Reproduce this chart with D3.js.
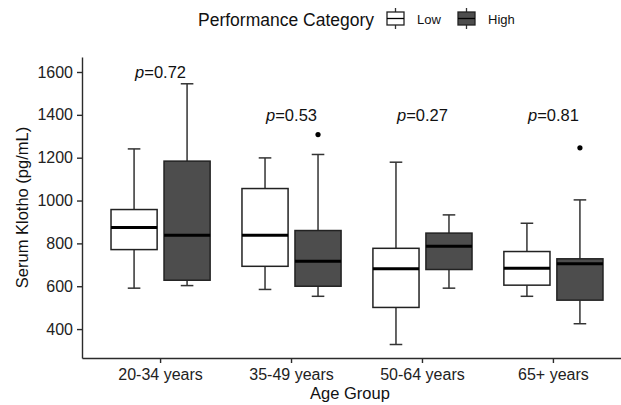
<!DOCTYPE html>
<html>
<head>
<meta charset="utf-8">
<script src="https://cdn.jsdelivr.net/npm/d3@7"></script>
<style>
  body { margin: 0; background: #fff; }
  svg { font-family: "Liberation Sans", Arial, sans-serif; }
  .axis path, .axis line { stroke: #2b2b2b; stroke-width: 1.4px; }
  .axis text { fill: #222; font-size: 16px; }
</style>
</head>
<body>
<div id="chart"></div>
<script>
// age groups and performance categories
var ageGroups = ["20-34 years", "35-49 years", "50-64 years", "65+ years"];
var categories = ["Low", "High"];

// box stats per group: [min, q1, median, q3, max]
var lowStats = [
    [591, 771, 874, 958, 1241],
    [585, 693, 838, 1056, 1199],
    [328, 501, 682, 777, 1179],
    [553, 605, 684, 762, 894]
];
var highStats = [
    [603, 628, 838, 1184, 1545],
    [553, 600, 717, 860, 1215],
    [591, 678, 787, 848, 933],
    [425, 535, 705, 728, 1003]
];
var lowOutliers = [[], [], [], []];
var highOutliers = [[], [1308], [], [1246]];

var pValues = ["0.72", "0.53", "0.27", "0.81"];
var pLabelY = [1600, 1400, 1400, 1400];

var yTicks = [400, 600, 800, 1000, 1200, 1400, 1600];

var fills = {Low: "#ffffff", High: "#4d4d4d"};

var width = 621, height = 405;
var panel = {left: 82, right: 632, top: 57, bottom: 358};

var svg = d3.select("#chart").append("svg")
    .attr("width", width)
    .attr("height", height);

var x = d3.scaleBand()
    .domain(ageGroups)
    .range([panel.left, panel.right])
    .paddingInner(0)
    .paddingOuter(0.1);

var xSub = d3.scaleBand()
    .domain(categories)
    .range([-53, 53])
    .padding(0);

var boxW = xSub.bandwidth() * 0.87;

var y = d3.scaleLinear()
    .domain([265, 1670])
    .range([panel.bottom, panel.top]);

// build rows for the boxes
var boxes = [];
ageGroups.forEach(function(g, i) {
    boxes.push({group: g, cat: "Low", s: lowStats[i], out: lowOutliers[i]});
    boxes.push({group: g, cat: "High", s: highStats[i], out: highOutliers[i]});
});

function cx(d) { return x(d.group) + x.bandwidth() / 2 + xSub(d.cat) + xSub.bandwidth() / 2; }

var bx = svg.selectAll(".box")
    .data(boxes)
    .enter()
    .append("g")
    .attr("class", "box");

// whiskers
bx.append("line")
    .attr("x1", cx).attr("x2", cx)
    .attr("y1", function(d) { return y(d.s[0]); })
    .attr("y2", function(d) { return y(d.s[1]); })
    .attr("stroke", "#333").attr("stroke-width", 1.5);

bx.append("line")
    .attr("x1", cx).attr("x2", cx)
    .attr("y1", function(d) { return y(d.s[3]); })
    .attr("y2", function(d) { return y(d.s[4]); })
    .attr("stroke", "#333").attr("stroke-width", 1.5);

// caps
[0, 4].forEach(function(k) {
    bx.append("line")
        .attr("x1", function(d) { return cx(d) - 6.3; })
        .attr("x2", function(d) { return cx(d) + 6.3; })
        .attr("y1", function(d) { return y(d.s[k]); })
        .attr("y2", function(d) { return y(d.s[k]); })
        .attr("stroke", "#333").attr("stroke-width", 1.5);
});

bx.append("rect")
    .attr("x", function(d) { return cx(d) - boxW / 2; })
    .attr("y", function(d) { return y(d.s[3]); })
    .attr("width", boxW)
    .attr("height", function(d) { return y(d.s[1]) - y(d.s[3]); })
    .attr("fill", function(d) { return fills[d.cat]; })
    .attr("stroke", "#222").attr("stroke-width", 1.5);

bx.append("line")
    .attr("x1", function(d) { return cx(d) - boxW / 2; })
    .attr("x2", function(d) { return cx(d) + boxW / 2; })
    .attr("y1", function(d) { return y(d.s[2]); })
    .attr("y2", function(d) { return y(d.s[2]); })
    .attr("stroke", "#000").attr("stroke-width", 3);

bx.selectAll(".outlier")
    .data(function(d) { return d.out.map(function(v) { return {v: v, p: d}; }); })
    .enter()
    .append("circle")
    .attr("class", "outlier")
    .attr("cx", function(o) { return cx(o.p); })
    .attr("cy", function(o) { return y(o.v); })
    .attr("r", 2.6)
    .attr("fill", "#000");

// p-value labels
var pl = svg.selectAll(".pLabel")
    .data(ageGroups)
    .enter()
    .append("text")
    .attr("class", "pLabel")
    .attr("x", function(d) { return x(d) + x.bandwidth() / 2; })
    .attr("y", function(d, i) { return y(pLabelY[i]); })
    .attr("dy", "0.35em")
    .attr("text-anchor", "middle")
    .style("font-size", "16.5px")
    .attr("fill", "#111");
pl.append("tspan").style("font-style", "italic").text("p");
pl.append("tspan").text(function(d, i) { return "=" + pValues[i]; });

// axes
svg.append("g")
    .attr("class", "axis axis--x")
    .attr("transform", "translate(0," + panel.bottom + ")")
    .call(d3.axisBottom(x).tickSize(5).tickSizeOuter(0).tickPadding(6));

svg.append("g")
    .attr("class", "axis axis--y")
    .attr("transform", "translate(" + panel.left + ",0)")
    .call(d3.axisLeft(y).tickValues(yTicks).tickFormat(d3.format("d"))
        .tickSize(5).tickSizeOuter(0).tickPadding(4));

svg.selectAll(".axis text").style("font-size", "16px");

// axis titles
svg.append("text")
    .attr("x", 350)
    .attr("y", 399)
    .attr("text-anchor", "middle")
    .style("font-size", "16.5px")
    .attr("fill", "#111")
    .text("Age Group");

svg.append("text")
    .attr("transform", "translate(28," + (panel.top + panel.bottom) / 2 + ") rotate(-90)")
    .attr("text-anchor", "middle")
    .style("font-size", "16.5px")
    .attr("fill", "#111")
    .text("Serum Klotho (pg/mL)");

// legend
var legend = svg.append("g").attr("class", "legend");
legend.append("text")
    .attr("x", 198).attr("y", 25.5)
    .style("font-size", "17.5px")
    .attr("fill", "#111")
    .text("Performance Category");

var keyX = [386, 457];
var keys = legend.selectAll(".key")
    .data(categories)
    .enter()
    .append("g")
    .attr("class", "key")
    .attr("transform", function(d, i) { return "translate(" + keyX[i] + ",0)"; });

keys.append("line")
    .attr("x1", 9.5).attr("x2", 9.5).attr("y1", 8).attr("y2", 29)
    .attr("stroke", "#333").attr("stroke-width", 1.3);
keys.append("rect")
    .attr("x", 1).attr("y", 12).attr("width", 17).attr("height", 13)
    .attr("fill", function(d) { return fills[d]; })
    .attr("stroke", "#222").attr("stroke-width", 1.3);
keys.append("line")
    .attr("x1", 1).attr("x2", 18).attr("y1", 18.5).attr("y2", 18.5)
    .attr("stroke", "#000").attr("stroke-width", 1.3);
keys.append("text")
    .attr("x", 31).attr("y", 23.5)
    .style("font-size", "13px")
    .attr("fill", "#111")
    .text(function(d) { return d; });
</script>
</body>
</html>
